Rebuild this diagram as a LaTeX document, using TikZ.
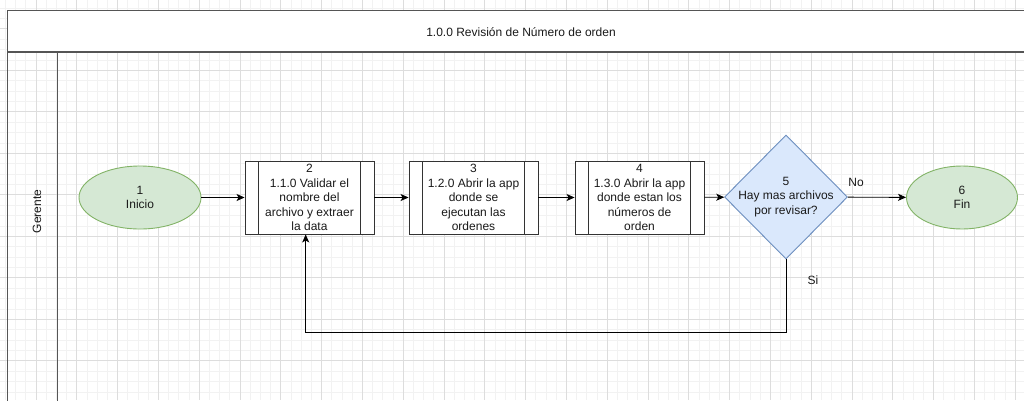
\documentclass[tikz,border=0pt]{standalone}
\usepackage{fontspec}
\setmainfont{Liberation Sans}
\usetikzlibrary{arrows.meta,shapes.geometric}

\definecolor{gridminor}{HTML}{F2F2F2}
\definecolor{gridmajor}{HTML}{DDDDDD}
\definecolor{framegray}{HTML}{555555}
\definecolor{termfill}{HTML}{D5E8D4}
\definecolor{termdraw}{HTML}{82B366}
\definecolor{decfill}{HTML}{DAE8FC}
\definecolor{decdraw}{HTML}{6C8EBF}
\definecolor{txt}{HTML}{1A1A1A}

\tikzset{
  lbl/.style={font=\fontsize{12}{14.5}\selectfont, text=txt, align=center},
  terminal/.style={ellipse, draw=termdraw, fill=termfill, line width=0.9pt,
    inner sep=0pt, lbl},
  procbox/.style={rectangle, draw=black!80, fill=white, line width=0.9pt,
    minimum width=129pt, minimum height=73pt, inner sep=0pt, lbl,
    path picture={
      \draw[black!80, line width=0.9pt]
        ([xshift=13.5pt]path picture bounding box.north west) --
        ([xshift=13.5pt]path picture bounding box.south west)
        ([xshift=-13.5pt]path picture bounding box.north east) --
        ([xshift=-13.5pt]path picture bounding box.south east);
    }},
  decision/.style={diamond, draw=decdraw, fill=decfill, line width=0.9pt,
    minimum width=123pt, minimum height=124pt, inner sep=0pt, aspect=1},
  flow/.style={draw=black, line width=0.9pt,
    -{Stealth[length=8pt,width=7pt,inset=2pt]}},
  pool/.style={draw=framegray, line width=1.4pt},
}

\begin{document}
\begin{tikzpicture}[x=1pt, y=-1pt]
\useasboundingbox (0,0) rectangle (1024,400);
\fill[white] (0,0) rectangle (1024,400);

% background grid
\begin{scope}
\clip (0,0) rectangle (1024,400);
\foreach \i in {-3,...,97}
  \draw[gridminor, line width=0.8pt] ({36+10.2*\i},0) -- ({36+10.2*\i},400);
\foreach \j in {-2,...,37}
  \draw[gridminor, line width=0.8pt] (0,{28.8+10.375*\j}) -- (1024,{28.8+10.375*\j});
\foreach \i in {0,...,25}
  \draw[gridmajor, line width=0.8pt] ({36+40.8*\i},0) -- ({36+40.8*\i},400);
\foreach \j in {-1,...,9}
  \draw[gridmajor, line width=0.8pt] (0,{28.8+41.5*\j}) -- (1024,{28.8+41.5*\j});
\end{scope}

% pool with title band and lane header
\fill[white] (7.5,10.5) rectangle (1030,52);
\draw[pool] (1030,10.5) -- (7.5,10.5) -- (7.5,410);
\draw[pool] (7.5,52) -- (1030,52);
\draw[pool] (57.5,52) -- (57.5,410);
\node[lbl] (title) at (521,32) {1.0.0 Revisión de Número de orden};
\node[lbl, rotate=90] (lane) at (37,211.5) {Gerente};

% process nodes
\node[terminal, minimum width=122pt, minimum height=63pt] (n1) at (140,197.5) {1\\Inicio};
\node[procbox] (n2) at (309.5,197.5) {2\\1.1.0 Validar el\\nombre del\\archivo y extraer\\la data};
\node[procbox] (n3) at (473.5,197.5) {3\\1.2.0 Abrir la app\\donde se\\ejecutan las\\ordenes};
\node[procbox] (n4) at (639.5,197.5) {4\\1.3.0 Abrir la app\\donde estan los\\números de\\orden};
\node[decision] (n5) at (786,197) {};
\node[lbl] (n5text) at (n5.center) {5\\Hay mas archivos\\por revisar?};
\node[terminal, minimum width=111pt, minimum height=63pt] (n6) at (962,197.5) {6\\Fin};

% connectors
\draw[flow] (n1) -- (n2);
\draw[flow] (n2) -- (n3);
\draw[flow] (n3) -- (n4);
\draw[flow] (n4) -- (n5);
\draw[flow] (n5) -- (n6);
\node[lbl] (no) at (856,182) {No};

\coordinate (back) at (305.7,332);
\draw[flow] (n5.south) |- (back) -- (back |- n2.south);
\node[lbl] (si) at (813,280) {Si};
\end{tikzpicture}
\end{document}
